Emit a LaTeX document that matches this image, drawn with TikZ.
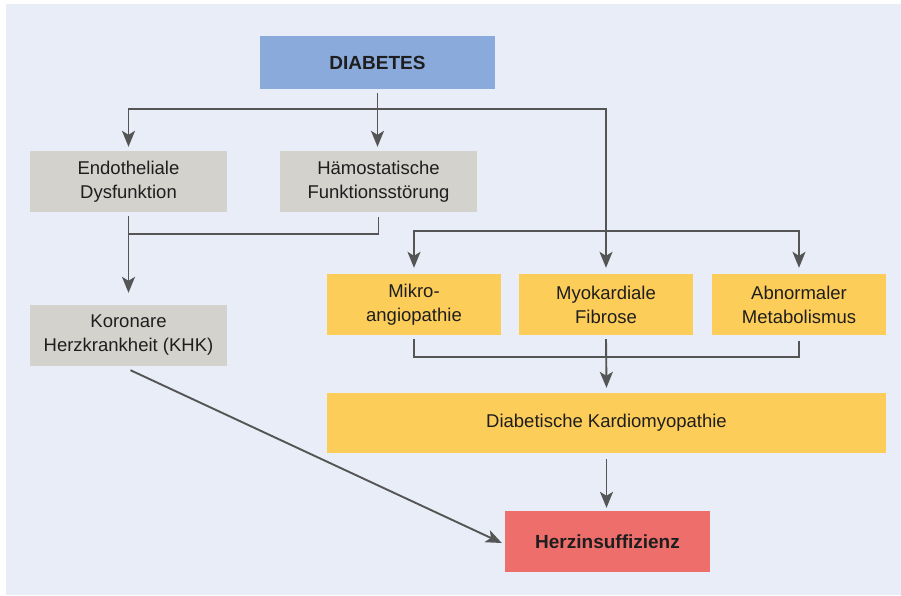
\documentclass[tikz,border=0pt]{standalone}
\usepackage{fontspec}
\setmainfont{Liberation Sans}
\usetikzlibrary{arrows.meta,calc}
\definecolor{panelbg}{RGB}{232,237,248}
\definecolor{diabblue}{RGB}{138,170,220}
\definecolor{boxgray}{RGB}{211,210,205}
\definecolor{boxyellow}{RGB}{253,205,90}
\definecolor{boxred}{RGB}{238,110,107}
\definecolor{linegray}{RGB}{85,85,85}
\definecolor{textdark}{RGB}{30,30,30}
\tikzset{
  box/.style={rectangle, inner sep=0pt, align=center, text=textdark,
    font=\fontsize{18.5}{24}\selectfont},
  graybox/.style={box, fill=boxgray, minimum width=197pt, minimum height=61pt},
  yellowbox/.style={box, fill=boxyellow, minimum width=174pt, minimum height=61pt},
  boldbox/.style={box, font=\fontsize{19}{24}\selectfont\bfseries},
  conn/.style={draw=linegray, line width=1.9pt},
  arr/.style={conn, -{Stealth[length=16pt,width=13pt,inset=4pt]}}
}
\begin{document}
\begin{tikzpicture}[x=1pt,y=-1pt]
\useasboundingbox (0,0) rectangle (901,595);
\fill[panelbg] (6,4) rectangle (901,595);

\node[boldbox, fill=diabblue, minimum width=235pt, minimum height=53pt] (diab) at (377.5,62.5) {DIABETES};
\node[graybox] (endo) at (128.5,181.5) {Endotheliale\\Dysfunktion};
\node[graybox] (haemo) at (378.5,181.5) {Hämostatische\\Funktionsstörung};
\node[graybox] (khk) at (128.5,335.5) {Koronare\\Herzkrankheit (KHK)};
\node[yellowbox] (mikro) at (414,304.5) {Mikro-\\angiopathie};
\node[yellowbox] (myo) at (606,304.5) {Myokardiale\\Fibrose};
\node[yellowbox] (abn) at (799,304.5) {Abnormaler\\Metabolismus};
\node[box, fill=boxyellow, minimum width=559pt, minimum height=60pt] (kard) at (606.5,423) {Diabetische Kardiomyopathie};
\node[boldbox, fill=boxred, minimum width=205pt, minimum height=61pt] (herz) at (607.5,541.5) {Herzinsuffizienz};

% Diabetes branches
\draw[arr] ([yshift=-4pt]diab.south) -- ++(0,16) -| ([yshift=4pt]endo.north);
\draw[arr] ([yshift=-4pt]diab.south) -- ([yshift=4pt]diab.south |- haemo.north);
\draw[arr] ([yshift=-4pt]diab.south) -- ++(0,16) -| ([yshift=6pt]myo.north);
\draw[arr] ([yshift=43pt]myo.north) -| ([yshift=6pt]mikro.north);
\draw[arr] ([yshift=43pt]myo.north) -| ([yshift=6pt]abn.north);

% Endothel + Haemostase -> KHK
\draw[conn] ([yshift=-5pt]haemo.south) |- ([yshift=-22pt]endo.south);
\draw[arr] ([yshift=-4pt]endo.south) -- ([yshift=12pt]khk.north);

% Mikro, Myo, Abn -> Kardiomyopathie
\draw[conn] ([yshift=-4pt]mikro.south) -- ++(0,18) -| ([yshift=-6pt]abn.south);
\draw[arr] ([yshift=-4pt]myo.south) -- ([yshift=5pt]kard.north);

% -> Herzinsuffizienz
\draw[arr] ([yshift=-6pt]kard.south) -- ([yshift=3pt]kard.south |- herz.north);
\draw[arr] ([shift={(2pt,-4pt)}]khk.south) -- ([shift={(-3pt,-1.5pt)}]herz.west);
\end{tikzpicture}
\end{document}
